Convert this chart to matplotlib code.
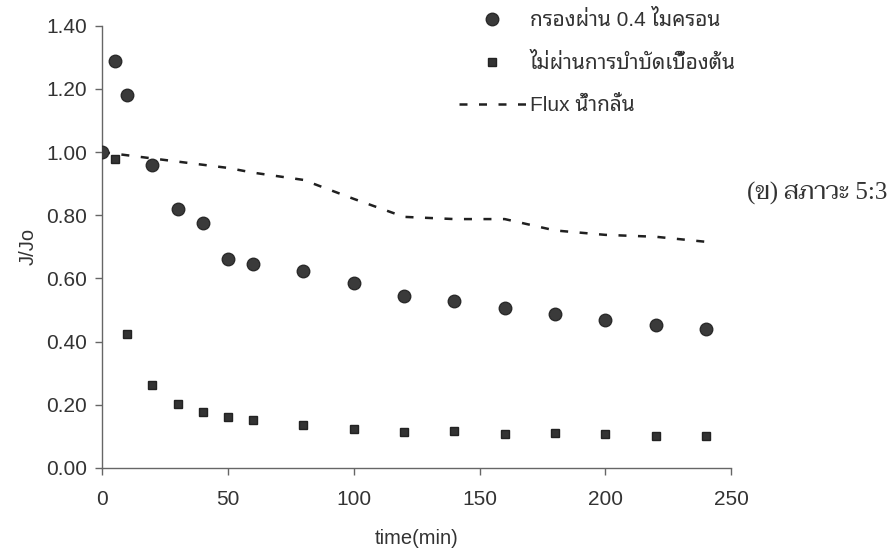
import matplotlib
matplotlib.use("Agg")
import matplotlib.pyplot as plt

# Sampling times (min)
time_min = [0, 5, 10, 20, 30, 40, 50, 60, 80, 100, 120, 140, 160, 180, 200, 220, 240]

# Normalised flux J/Jo
filtered_04um = [1.00, 1.29, 1.18, 0.96, 0.82, 0.775, 0.662, 0.646, 0.625, 0.587,
                 0.546, 0.530, 0.508, 0.489, 0.468, 0.453, 0.440]
untreated = [1.00, 0.978, 0.424, 0.262, 0.204, 0.178, 0.162, 0.151, 0.135, 0.124,
             0.114, 0.117, 0.107, 0.112, 0.108, 0.102, 0.102]

flux_time = [0, 10, 20, 30, 40, 50, 60, 80, 100, 120, 140, 160, 180, 200, 220, 240]
flux_water = [1.00, 0.99, 0.98, 0.97, 0.96, 0.95, 0.935, 0.912, 0.852, 0.795,
              0.788, 0.788, 0.752, 0.738, 0.732, 0.716]

labels = ["กรองผ่าน 0.4 ไมครอน", "ไม่ผ่านการบำบัดเบื้องต้น", "Flux น้ำกลั่น"]
condition_label = "(ข) สภาวะ 5:3"

x_ticks = [0, 50, 100, 150, 200, 250]
y_ticks = [0.0, 0.2, 0.4, 0.6, 0.8, 1.0, 1.2, 1.4]

sans = ["Liberation Sans", "Noto Sans Thai Looped", "Noto Sans Thai", "Sarabun", "DejaVu Sans"]
serif = ["Liberation Serif", "Taviraj", "Sarabun", "Noto Serif Thai", "DejaVu Serif"]
plt.rcParams["font.family"] = sans

fig = plt.figure(figsize=(8.95, 5.48), dpi=100)
ax = fig.add_axes([0.114, 0.146, 0.703, 0.807])

ax.plot(flux_time, flux_water, color="#202020", lw=1.8, linestyle=(0, (3.2, 4.6)),
        label=labels[2], zorder=2)
ax.plot(time_min, untreated, linestyle="none", marker="s", markersize=6.2,
        color="#333333", markeredgecolor="#222222", label=labels[1], zorder=3)
ax.plot(time_min, filtered_04um, linestyle="none", marker="o", markersize=9,
        color="#3a3a3a", markeredgecolor="#2a2a2a", label=labels[0], zorder=4)

ax.set_xlim(0, 250)
ax.set_ylim(0, 1.4)
ax.set_xticks(x_ticks)
ax.set_yticks(y_ticks)
ax.set_yticklabels([f"{v:.2f}" for v in y_ticks])

for side in ("top", "right"):
    ax.spines[side].set_visible(False)
for side in ("left", "bottom"):
    ax.spines[side].set_color("#666666")
    ax.spines[side].set_linewidth(1.0)

ax.tick_params(axis="both", direction="out", length=5, width=1.0, color="#666666",
               labelsize=15, labelcolor="#333333", pad=6)
ax.tick_params(axis="x", pad=11)

ax.set_xlabel("time(min)", fontsize=14.5, color="#333333", labelpad=14)
ax.set_ylabel("J/Jo", fontsize=14.5, color="#333333", labelpad=6)

handles, hl = ax.get_legend_handles_labels()
order = [2, 1, 0]
leg = fig.legend([handles[i] for i in order], [hl[i] for i in order],
                 loc="upper left", bbox_to_anchor=(459 / 895, 1 - 10 / 548),
                 frameon=False, handlelength=3.2, handletextpad=0.2,
                 labelspacing=1.1, borderpad=0, borderaxespad=0,
                 prop={"family": sans, "size": 15})
for t in leg.get_texts():
    t.set_color("#333333")

fig.text(887 / 895, 1 - 193 / 548, condition_label, ha="right", va="center",
         fontsize=18, color="#333333", family=serif)

fig.savefig("out.png", dpi=100, facecolor="white")
